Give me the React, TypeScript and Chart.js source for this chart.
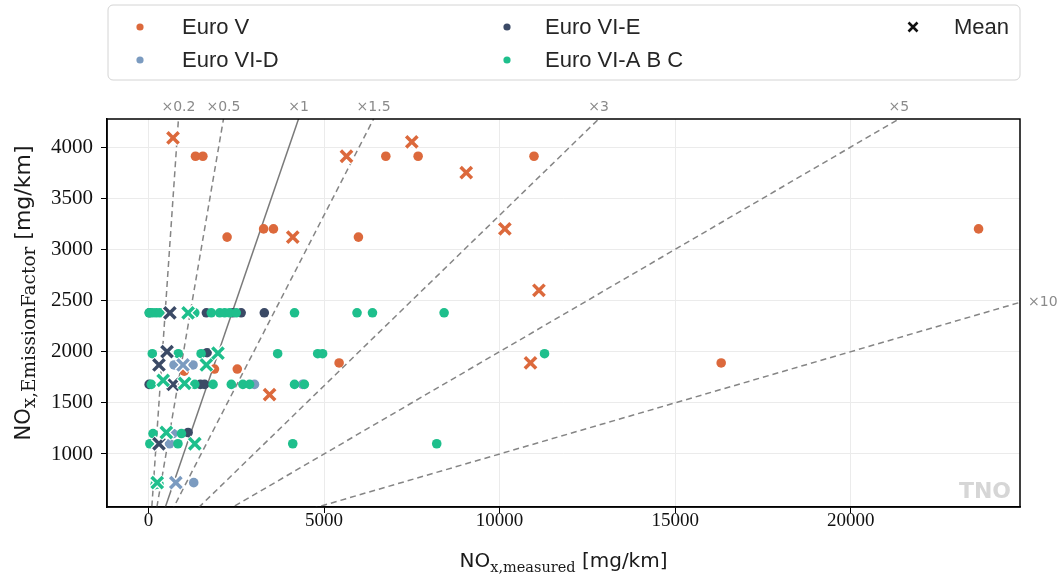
import React, { useEffect, useRef } from "react";
import { Chart, registerables } from "chart.js";

Chart.register(...registerables);

const seriesNames = ["Euro V", "Euro VI-D", "Euro VI-E", "Euro VI-A B C"];
const seriesColors = ["#dc693c", "#7b9bc0", "#3b4a66", "#1ebf8c"];
const meanLabel = "Mean";

// Euro V
const euroVPoints = [
  [1340, 3910], [1550, 3910], [6760, 3910], [7680, 3910], [10980, 3910],
  [2240, 3120], [5980, 3120],
  [3280, 3200], [3560, 3200], [23640, 3200],
  [5430, 1890], [16310, 1890],
  [2530, 1830], [1020, 1810], [1880, 1830],
];
const euroVMeans = [
  [700, 4090], [4110, 3120], [5640, 3910], [7500, 4050], [9050, 3750],
  [10150, 3200], [11120, 2600], [10880, 1890], [3450, 1580],
];

// Euro VI-D
const euroVIDPoints = [
  [730, 1870], [1270, 1870], [1290, 720], [3020, 1680], [4390, 1680],
  [600, 1100], [700, 1200],
];
const euroVIDMeans = [[985, 1870], [780, 720]];

// Euro VI-E
const euroVIEPoints = [
  [30, 2380], [1650, 2380], [2400, 2380], [2640, 2380], [3300, 2380],
  [1670, 1990],
  [20, 1680], [1480, 1680], [1600, 1680],
  [1130, 1210],
];
const euroVIEMeans = [[610, 2380], [530, 2000], [300, 1870], [300, 1100], [700, 1680]];

// Euro VI-A B C
const abcPoints = [
  [20, 2380], [120, 2380], [220, 2380], [320, 2380], [1320, 2380], [1790, 2380],
  [2030, 2380], [2170, 2380], [2310, 2380], [2500, 2380], [4160, 2380],
  [5940, 2380], [6380, 2380], [8420, 2380],
  [110, 1980], [850, 1980], [1500, 1980], [3680, 1980], [4820, 1980], [4960, 1980], [11280, 1980],
  [80, 1680], [1320, 1680], [1840, 1680], [2360, 1680], [2690, 1680], [2880, 1680], [4160, 1680], [4440, 1680],
  [130, 1200], [940, 1200],
  [40, 1100], [840, 1100], [4110, 1100], [8210, 1100],
  [190, 700], [300, 705],
];
const abcMeans = [
  [1130, 2380], [1980, 1985], [1650, 1870], [420, 1720], [1030, 1690],
  [510, 1210], [1320, 1100], [250, 720],
];

const ratioValues = [0.2, 0.5, 1, 1.5, 3, 5, 10];
const ratioLabels = ["×0.2", "×0.5", "×1", "×1.5", "×3", "×5", "×10"];
const xTicks = [0, 5000, 10000, 15000, 20000];
const yTicks = [1000, 1500, 2000, 2500, 3000, 3500, 4000];
const xRange = [-1180, 24820];
const yRange = [482, 4274];

const toXY = (pts: number[][]) => pts.map(([x, y]) => ({ x, y }));

function drawComposite(ctx: CanvasRenderingContext2D, parts: { t: string; f: string; dy: number }[], cx: number, cy: number, rotate: boolean) {
  ctx.save();
  ctx.translate(cx, cy);
  if (rotate) ctx.rotate(-Math.PI / 2);
  const widths = parts.map((p) => {
    ctx.font = p.f;
    return ctx.measureText(p.t).width;
  });
  const total = widths.reduce((a, b) => a + b, 0);
  let xx = -total / 2;
  ctx.textAlign = "left";
  ctx.textBaseline = "alphabetic";
  ctx.fillStyle = "#1a1a1a";
  parts.forEach((p, i) => {
    ctx.font = p.f;
    ctx.fillText(p.t, xx, p.dy);
    xx += widths[i];
  });
  ctx.restore();
}

const extrasPlugin = {
  id: "extras",
  beforeDraw(chart: any) {
    const ctx = chart.ctx;
    ctx.save();
    ctx.fillStyle = "#ffffff";
    ctx.fillRect(0, 0, chart.width, chart.height);
    ctx.restore();
  },
  afterDraw(chart: any) {
    const ctx: CanvasRenderingContext2D = chart.ctx;
    const a = chart.chartArea;
    const xs = chart.scales.x;
    const ys = chart.scales.y;
    ctx.save();
    // TNO watermark
    ctx.fillStyle = "#d6d6d6";
    ctx.font = 'bold 22px "DejaVu Sans"';
    ctx.textAlign = "right";
    ctx.textBaseline = "alphabetic";
    ctx.fillText("TNO", a.right - 9, a.bottom - 9);
    // frame
    ctx.strokeStyle = "#000";
    ctx.lineWidth = 1.5;
    ctx.strokeRect(a.left, a.top, a.right - a.left, a.bottom - a.top);
    // ratio labels
    ctx.fillStyle = "#8a8a8a";
    ctx.font = '14px "DejaVu Sans"';
    ratioValues.forEach((k, i) => {
      const xTop = k * ys.max;
      if (xTop <= xs.max) {
        ctx.textAlign = "center";
        ctx.textBaseline = "alphabetic";
        ctx.fillText(ratioLabels[i], xs.getPixelForValue(xTop), a.top - 8);
      } else {
        ctx.textAlign = "left";
        ctx.textBaseline = "middle";
        ctx.fillText(ratioLabels[i], a.right + 8, ys.getPixelForValue(xs.max / k));
      }
    });
    // axis titles
    drawComposite(ctx, [
      { t: "NO", f: '20px "DejaVu Sans"', dy: 0 },
      { t: "x,measured", f: '14.5px "DejaVu Serif"', dy: 5 },
      { t: " [mg/km]", f: '20px "DejaVu Sans"', dy: 0 },
    ], (a.left + a.right) / 2, 567, false);
    drawComposite(ctx, [
      { t: "NO", f: '21px "DejaVu Sans"', dy: 0 },
      { t: "x,EmissionFactor", f: '18.5px "DejaVu Serif"', dy: 5 },
      { t: " [mg/km]", f: '22px "DejaVu Sans"', dy: 0 },
    ], 30, 293, true);
    // legend
    const lx = 108, ly = 5, lw = 912, lh = 75, r = 5;
    ctx.beginPath();
    ctx.moveTo(lx + r, ly);
    ctx.arcTo(lx + lw, ly, lx + lw, ly + lh, r);
    ctx.arcTo(lx + lw, ly + lh, lx, ly + lh, r);
    ctx.arcTo(lx, ly + lh, lx, ly, r);
    ctx.arcTo(lx, ly, lx + lw, ly, r);
    ctx.closePath();
    ctx.fillStyle = "rgba(255,255,255,0.9)";
    ctx.fill();
    ctx.strokeStyle = "#d4d4d4";
    ctx.lineWidth = 1;
    ctx.stroke();
    const markX = [140, 507, 913];
    const textX = [182, 545, 954];
    const rowY = [27, 60];
    const entries = [...seriesNames, meanLabel];
    entries.forEach((name, i) => {
      const col = Math.floor(i / 2);
      const row = i % 2;
      const mx = markX[col];
      const my = rowY[row];
      if (i < seriesNames.length) {
        ctx.beginPath();
        ctx.arc(mx, my, 3.6, 0, Math.PI * 2);
        ctx.fillStyle = seriesColors[i];
        ctx.fill();
      } else {
        ctx.beginPath();
        ctx.moveTo(mx - 4.5, my - 4.5);
        ctx.lineTo(mx + 4.5, my + 4.5);
        ctx.moveTo(mx + 4.5, my - 4.5);
        ctx.lineTo(mx - 4.5, my + 4.5);
        ctx.strokeStyle = "#111";
        ctx.lineWidth = 2.6;
        ctx.stroke();
      }
      ctx.fillStyle = "#262626";
      ctx.font = '22px "Liberation Sans"';
      ctx.textAlign = "left";
      ctx.textBaseline = "middle";
      ctx.fillText(name, textX[col], my + 1);
    });
    ctx.restore();
  },
};

export default function App() {
  const ref = useRef<HTMLCanvasElement | null>(null);
  useEffect(() => {
    if (!ref.current) return;
    const ds: any[] = [];
    ratioValues.forEach((k) => {
      ds.push({
        label: "ratio " + k,
        data: [{ x: 0, y: 0 }, { x: k * 10000, y: 10000 }],
        showLine: true,
        borderColor: k === 1 ? "#7a7a7a" : "#858585",
        borderWidth: 1.5,
        borderDash: k === 1 ? [] : [6, 4],
        pointRadius: 0,
        fill: false,
      });
    });
    const pointSets = [euroVPoints, euroVIDPoints, euroVIEPoints, abcPoints];
    const meanSets = [euroVMeans, euroVIDMeans, euroVIEMeans, abcMeans];
    pointSets.forEach((pts, i) => {
      ds.push({
        label: seriesNames[i],
        data: toXY(pts),
        backgroundColor: seriesColors[i],
        borderColor: seriesColors[i],
        pointRadius: 4.8,
        pointBorderWidth: 0,
      });
    });
    meanSets.forEach((pts, i) => {
      ds.push({
        label: seriesNames[i] + " mean edge",
        data: toXY(pts),
        pointStyle: "crossRot",
        pointRadius: 8.6,
        pointBorderWidth: 6.2,
        borderColor: "#ffffff",
        backgroundColor: "#ffffff",
      });
      ds.push({
        label: seriesNames[i] + " mean",
        data: toXY(pts),
        pointStyle: "crossRot",
        pointRadius: 8,
        pointBorderWidth: 3.5,
        borderColor: seriesColors[i],
        backgroundColor: seriesColors[i],
      });
    });
    ds.forEach((d, i) => (d.order = ds.length - i));

    const chart = new Chart(ref.current, {
      type: "scatter",
      data: { datasets: ds },
      options: {
        responsive: true,
        maintainAspectRatio: false,
        animation: false,
        events: [],
        layout: { padding: { top: 119, right: 42, left: 0, bottom: 0 } },
        plugins: { legend: { display: false }, tooltip: { enabled: false } },
        scales: {
          x: {
            type: "linear",
            min: xRange[0],
            max: xRange[1],
            afterBuildTicks: (s: any) => {
              s.ticks = xTicks.map((v) => ({ value: v }));
            },
            afterFit: (s: any) => {
              s.height = 69;
            },
            grid: { color: "#ebebeb", lineWidth: 1, tickColor: "#000", tickLength: 6, drawTicks: true },
            border: { color: "#000", width: 1.5 },
            ticks: {
              color: "#111",
              font: { family: "Liberation Serif", size: 19 },
              padding: -3,
              maxRotation: 0,
              autoSkip: false,
              callback: (v: any) => String(v),
            },
          },
          y: {
            type: "linear",
            min: yRange[0],
            max: yRange[1],
            afterBuildTicks: (s: any) => {
              s.ticks = yTicks.map((v) => ({ value: v }));
            },
            afterFit: (s: any) => {
              s.width = 107;
            },
            grid: { color: "#ebebeb", lineWidth: 1, tickColor: "#000", tickLength: 6, drawTicks: true },
            border: { color: "#000", width: 1.5 },
            ticks: {
              color: "#111",
              font: { family: "Liberation Serif", size: 21 },
              padding: 8,
              autoSkip: false,
              callback: (v: any) => String(v),
            },
          },
        },
      },
      plugins: [extrasPlugin],
    });
    return () => chart.destroy();
  }, []);
  return (
    <div style={{ position: "fixed", left: 0, top: 0, width: 1062, height: 576, background: "#fff" }}>
      <canvas ref={ref} />
    </div>
  );
}
